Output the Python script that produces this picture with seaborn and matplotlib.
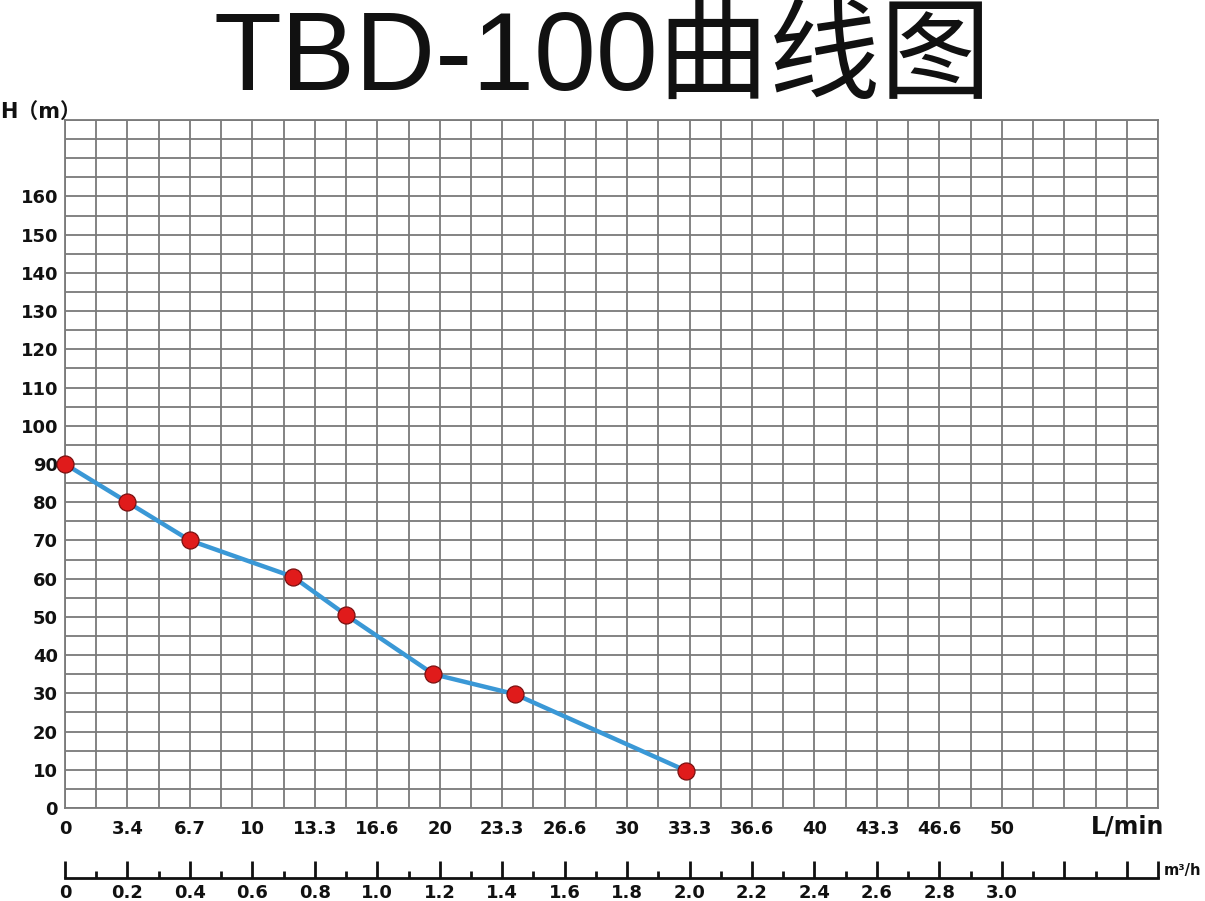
import numpy as np
import pandas as pd
import matplotlib
matplotlib.use("Agg")
import matplotlib.pyplot as plt
import seaborn as sns

# pump curve, flow in m3/h, head in m
flow_m3h = [0, 0.2, 0.4, 0.73, 0.9, 1.18, 1.44, 1.99]
head_m = [90, 80, 70, 60.5, 50.5, 35, 29.8, 9.7]

lmin_labels = ["0", "3.4", "6.7", "10", "13.3", "16.6", "20", "23.3", "26.6",
               "30", "33.3", "36.6", "40", "43.3", "46.6", "50"]
m3h_labels = ["0", "0.2", "0.4", "0.6", "0.8", "1.0", "1.2", "1.4", "1.6",
              "1.8", "2.0", "2.2", "2.4", "2.6", "2.8", "3.0"]
head_ticks = list(range(0, 161, 10))

title = "TBD-100曲线图"


def main():
    sns.set_theme(style="white")
    plt.rcParams["font.family"] = ["DejaVu Sans", "Noto Sans CJK SC"]

    W, H = 1205, 901
    fig = plt.figure(figsize=(W / 100, H / 100), dpi=100)
    left, right, top, bottom = 65, 1158, 120, 808
    ax = fig.add_axes([left / W, 1 - bottom / H, (right - left) / W, (bottom - top) / H])

    df = pd.DataFrame({"flow": flow_m3h, "head": head_m})
    sns.lineplot(data=df, x="flow", y="head", ax=ax, color="#3a98d6", lw=3.2, zorder=3)
    sns.scatterplot(data=df, x="flow", y="head", ax=ax, color="#e01b1b", s=150,
                    edgecolor="#7a1010", linewidth=0.9, zorder=4, clip_on=False)

    ax.set_xlim(0, 3.5)
    ax.set_ylim(0, 180)
    xt = np.round(np.arange(len(lmin_labels)) * 0.2, 2)
    ax.set_xticks(xt)
    ax.set_xticklabels(lmin_labels)
    ax.set_xticks(np.round(np.arange(0, 3.51, 0.1), 2), minor=True)
    ax.set_yticks(head_ticks)
    ax.set_yticklabels([str(v) for v in head_ticks])
    ax.set_yticks(np.arange(0, 181, 5), minor=True)
    ax.grid(which="both", color="#7a7a7a", lw=1.3)
    ax.set_axisbelow(True)
    for sp in ax.spines.values():
        sp.set_color("#7a7a7a")
        sp.set_linewidth(1.3)
    ax.tick_params(which="both", length=0)
    ax.tick_params(axis="x", pad=9, labelsize=13)
    ax.tick_params(axis="y", pad=5, labelsize=13)
    for lab in ax.get_xticklabels() + ax.get_yticklabels():
        lab.set_fontweight("bold")
        lab.set_color("#111111")
    ax.set_xlabel("")
    ax.set_ylabel("")

    # second flow scale in m3/h
    ax2 = fig.add_axes([left / W, 1 - 878 / H, (right - left) / W, 0.02])
    ax2.set_xlim(0, 3.5)
    ax2.set_ylim(0, 1)
    ax2.patch.set_alpha(0)
    for s in ["top", "left", "right"]:
        ax2.spines[s].set_visible(False)
    ax2.spines["bottom"].set_color("#111111")
    ax2.spines["bottom"].set_linewidth(2)
    major = list(np.round(np.arange(0, 3.41, 0.2), 2)) + [3.5]
    ax2.set_xticks(major)
    ax2.set_xticklabels(m3h_labels + [""] * (len(major) - len(m3h_labels)))
    ax2.set_xticks(np.round(np.arange(0.1, 3.41, 0.2), 2), minor=True)
    ax2.set_yticks([])
    ax2.tick_params(axis="x", which="both", bottom=True)
    ax2.tick_params(axis="x", which="major", direction="in", length=12, width=2,
                    color="#111111", pad=4, labelsize=13)
    ax2.tick_params(axis="x", which="minor", direction="in", length=5, width=2,
                    color="#111111")
    for lab in ax2.get_xticklabels():
        lab.set_fontweight("bold")
        lab.set_color("#111111")

    fig.text(603 / W, 1 - 90 / H, title, ha="center", va="baseline", fontsize=80,
             color="#111111", family=["Liberation Sans", "Noto Sans CJK SC"])
    fig.text(0 / W, 1 - 112 / H, "H（m）", ha="left", va="center", fontsize=15,
             fontweight="bold", color="#111111")
    fig.text(1128 / W, 1 - 826 / H, "L/min", ha="center", va="center", fontsize=17,
             fontweight="bold", color="#111111")
    fig.text(1201 / W, 1 - 870 / H, "m³/h", ha="right", va="center", fontsize=10.5,
             fontweight="bold", color="#111111")

    fig.savefig("out.png", dpi=100)


if __name__ == "__main__":
    main()
